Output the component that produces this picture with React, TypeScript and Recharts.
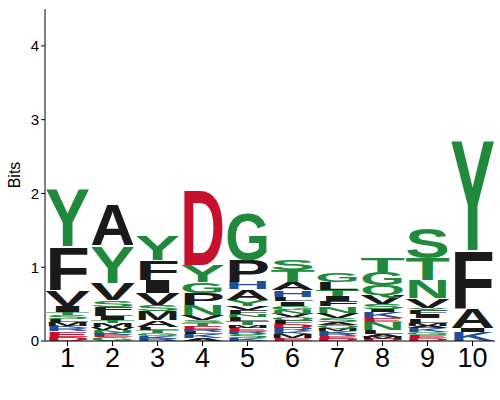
import React from 'react';
import { BarChart, Bar, XAxis, YAxis } from 'recharts';

const positions = ['1', '2', '3', '4', '5', '6', '7', '8', '9', '10'];

// letters listed bottom -> top, with their heights in bits
const pos1Letters = ['D', 'E', 'R', 'K', 'M', 'L', 'S', 'T', 'I', 'V', 'F', 'Y'];
const pos1Bits = [0.06, 0.07, 0.04, 0.04, 0.05, 0.04, 0.05, 0.04, 0.08, 0.22, 0.6, 0.8];
const pos2Letters = ['G', 'E', 'K', 'N', 'W', 'M', 'T', 'I', 'L', 'F', 'S', 'V', 'Y', 'A'];
const pos2Bits = [0.05, 0.03, 0.03, 0.04, 0.04, 0.05, 0.04, 0.06, 0.05, 0.07, 0.09, 0.24, 0.51, 0.56];
const pos3Letters = ['R', 'K', 'G', 'T', 'L', 'A', 'M', 'S', 'V', 'I', 'F', 'Y'];
const pos3Bits = [0.03, 0.04, 0.04, 0.04, 0.04, 0.09, 0.13, 0.08, 0.16, 0.18, 0.27, 0.34];
const pos4Letters = ['A', 'K', 'L', 'R', 'E', 'T', 'S', 'V', 'N', 'P', 'G', 'Y', 'D'];
const pos4Bits = [0.04, 0.05, 0.03, 0.03, 0.05, 0.04, 0.04, 0.07, 0.14, 0.16, 0.15, 0.23, 1.05];
const pos5Letters = ['K', 'S', 'R', 'E', 'M', 'T', 'L', 'N', 'F', 'V', 'Y', 'A', 'H', 'P', 'G'];
const pos5Bits = [0.04, 0.06, 0.03, 0.05, 0.04, 0.05, 0.06, 0.04, 0.05, 0.05, 0.09, 0.14, 0.1, 0.3, 0.64];
const pos6Letters = ['E', 'M', 'K', 'R', 'D', 'F', 'Q', 'V', 'N', 'G', 'I', 'L', 'H', 'A', 'T', 'S'];
const pos6Bits = [0.04, 0.05, 0.04, 0.05, 0.05, 0.05, 0.04, 0.05, 0.05, 0.06, 0.06, 0.06, 0.09, 0.11, 0.16, 0.15];
const pos7Letters = ['D', 'E', 'R', 'K', 'M', 'Q', 'A', 'S', 'V', 'N', 'F', 'I', 'T', 'L', 'G'];
const pos7Bits = [0.03, 0.04, 0.03, 0.04, 0.04, 0.04, 0.04, 0.05, 0.07, 0.09, 0.07, 0.07, 0.08, 0.11, 0.12];
const pos8Letters = ['D', 'M', 'A', 'L', 'N', 'E', 'K', 'I', 'S', 'V', 'Q', 'G', 'T'];
const pos8Bits = [0.03, 0.03, 0.04, 0.05, 0.11, 0.05, 0.08, 0.04, 0.07, 0.12, 0.14, 0.18, 0.2];
const pos9Letters = ['D', 'E', 'G', 'K', 'A', 'M', 'L', 'I', 'F', 'Y', 'V', 'N', 'T', 'S'];
const pos9Bits = [0.04, 0.04, 0.04, 0.05, 0.04, 0.04, 0.06, 0.05, 0.05, 0.04, 0.13, 0.25, 0.3, 0.42];
const pos10Letters = ['K', 'I', 'A', 'F', 'Y'];
const pos10Bits = [0.12, 0.05, 0.27, 0.8, 1.54];

const yTicks = [0, 1, 2, 3, 4];

const columns = [
  [pos1Letters, pos1Bits],
  [pos2Letters, pos2Bits],
  [pos3Letters, pos3Bits],
  [pos4Letters, pos4Bits],
  [pos5Letters, pos5Bits],
  [pos6Letters, pos6Bits],
  [pos7Letters, pos7Bits],
  [pos8Letters, pos8Bits],
  [pos9Letters, pos9Bits],
  [pos10Letters, pos10Bits],
] as [string[], number[]][];

const maxLayers = Math.max(...columns.map((c) => c[0].length));

const data = positions.map((pos, i) => {
  const row: Record<string, any> = { pos };
  const [letters, bits] = columns[i];
  letters.forEach((l, j) => {
    row[`l${j}`] = l;
    row[`h${j}`] = bits[j];
  });
  return row;
});

const GREEN = '#20893b';
const RED = '#c8102e';
const BLUE = '#1f4f9c';
const BLACK = '#1a1a1a';

const colorOf = (l: string) => {
  if ('GSTYCNQ'.includes(l)) return GREEN;
  if ('DE'.includes(l)) return RED;
  if ('KRH'.includes(l)) return BLUE;
  return BLACK;
};

const CAP = 0.716;
const FONT = "'Liberation Sans', Arial, sans-serif";

const Letter = (props: any) => {
  const { x, y, width, height, payload, layer } = props;
  const letter = payload ? payload[`l${layer}`] : undefined;
  if (!letter || !height || height <= 0) return null;
  const fs = 100;
  const sy = height / (fs * CAP);
  return (
    <g transform={`translate(${x},${y + height}) scale(1,${sy})`}>
      <text
        x={-width * 0.02}
        y={0}
        fontSize={fs}
        fontFamily={FONT}
        fontWeight="bold"
        fill={colorOf(letter)}
        textLength={width * 1.04}
        lengthAdjust="spacingAndGlyphs"
      >
        {letter}
      </text>
    </g>
  );
};

export default function App() {
  const layers = Array.from({ length: maxLayers }, (_, i) => i);
  return (
    <div style={{ width: 500, height: 400, background: '#fff' }}>
      <style>{'body{margin:0}'}</style>
      <BarChart
        width={500}
        height={400}
        data={data}
        margin={{ top: 9, right: 5, bottom: 19, left: 10 }}
        barCategoryGap={1}
      >
        <XAxis
          dataKey="pos"
          height={40}
          stroke="#000"
          tickLine={{ stroke: '#000' }}
          tickSize={5}
          tick={{ fill: '#000', fontSize: 27, fontFamily: FONT }}
        />
        <YAxis
          width={35}
          domain={[0, 4.5]}
          ticks={yTicks}
          stroke="#000"
          tickSize={4}
          tick={{ fill: '#000', fontSize: 15, fontFamily: FONT }}
          label={{
            value: 'Bits',
            angle: -90,
            position: 'insideLeft',
            offset: 4,
            style: { fill: '#000', fontSize: 16, fontFamily: FONT, textAnchor: 'middle' },
          }}
        />
        {layers.map((i) => (
          <Bar
            key={i}
            dataKey={`h${i}`}
            stackId="logo"
            isAnimationActive={false}
            shape={(p: any) => <Letter {...p} layer={i} />}
          />
        ))}
      </BarChart>
    </div>
  );
}
